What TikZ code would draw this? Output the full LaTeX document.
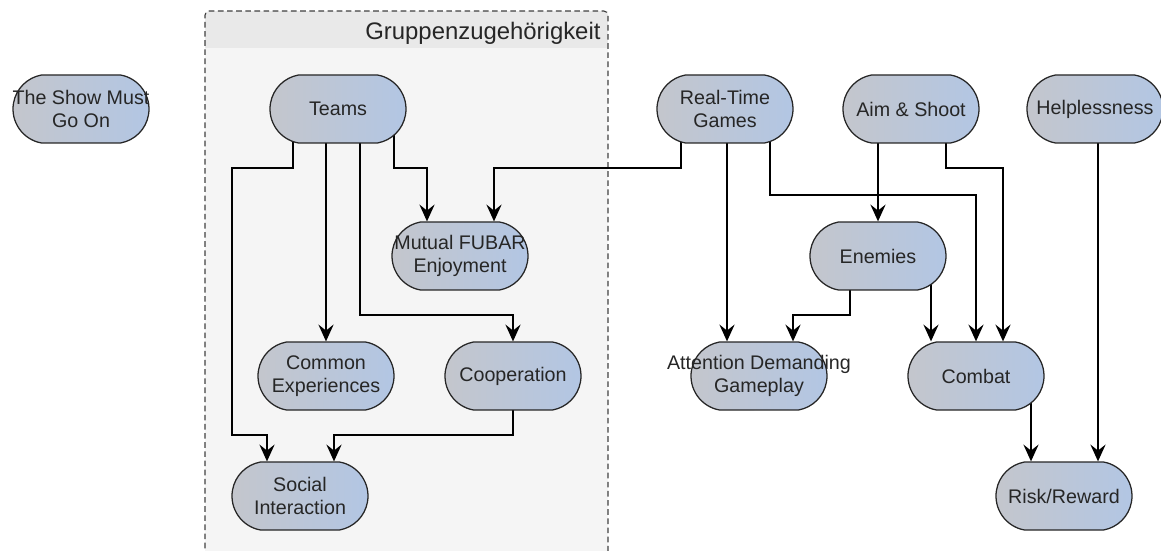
\documentclass[tikz,border=0pt]{standalone}
\usepackage{fontspec}
\setmainfont{Liberation Sans}
\usetikzlibrary{positioning,arrows.meta,shapes.misc}
\definecolor{nodeL}{RGB}{196,198,204}
\definecolor{nodeR}{RGB}{178,198,228}
\definecolor{groupHead}{RGB}{233,233,233}
\definecolor{groupBody}{RGB}{245,245,245}
\pgfdeclarelayer{background}
\pgfdeclarelayer{edges}
\pgfsetlayers{background,edges,main}
\newcommand{\mechfont}{\fontsize{14}{16.4}\selectfont}
\newcommand{\wideline}[1]{\makebox[0pt]{#1}}
\tikzset{mech node/.style={rounded rectangle, rounded rectangle arc length=160, draw=black!85, line width=0.9pt, left color=nodeL, right color=nodeR, minimum width=3.4cm, minimum height=1.7cm, inner sep=0pt, align=center, font=\mechfont, text=black!85, on grid},
link/.style={draw, line width=1.1pt, -{Stealth[length=4.2mm,width=3.8mm,inset=1.5mm]}}}

\begin{document}
\begin{tikzpicture}
			\useasboundingbox (0,0) rectangle (29.025,-13.775);
			% The group frame sits behind everything
			\begin{pgfonlayer}{background}
			    \begin{scope}
			        \clip[rounded corners=3pt] (5.125,-14.5) rectangle (15.2,-0.275);
			        \fill[groupBody] (5.125,-14.5) rectangle (15.2,-0.275);
			        \fill[groupHead] (5.125,-1.2) rectangle (15.2,-0.275);
			    \end{scope}
			    \draw[black!75, line width=0.8pt, dash pattern=on 4pt off 2.5pt, rounded corners=3pt] (5.125,-14.5) rectangle (15.2,-0.275);
			    \node[anchor=base east, font=\fontsize{17}{20}\selectfont, text=black!85, inner sep=0pt] (gruppe) at (15.02,-0.98) {Gruppenzugehörigkeit};
			\end{pgfonlayer}

			% Define each node
			% The name of the node is used to draw the links below
		    \node[mech node] (show) at (2.025,-2.725) {\wideline{The Show Must}\\Go On};
		    \node[mech node] (teams) [right = 6.425cm of show] {Teams};
		    \node[mech node] (realtime) [right = 9.675cm of teams] {Real-Time\\Games};
		    \node[mech node] (aim) [right = 4.65cm of realtime] {Aim \& Shoot};
		    \node[mech node] (help) [right = 4.6cm of aim] {Helplessness};
		    \node[mech node] (mutual) [below right = 3.675cm and 3.05cm of teams] {\wideline{Mutual FUBAR}\\Enjoyment};
		    \node[mech node] (enemies) [below left = 3.675cm and 0.825cm of aim] {Enemies};
		    \node[mech node] (common) [below left = 6.675cm and 0.3cm of teams] {Common\\Experiences};
		    \node[mech node] (coop) [right = 4.675cm of common] {Cooperation};
		    \node[mech node] (attention) [below right = 6.675cm and 0.85cm of realtime] {\wideline{Attention Demanding}\\Gameplay};
		    \node[mech node] (combat) [below right = 6.675cm and 1.625cm of aim] {Combat};
		    \node[mech node] (social) [below left = 3cm and 0.65cm of common] {Social\\Interaction};
		    \node[mech node] (risk) [below right = 3cm and 2.2cm of combat] {Risk/Reward};

			% Draw the links behind the nodes
			\begin{pgfonlayer}{edges}
		    \draw[link] ([xshift=-1.125cm]teams.center) |- (5.8,-4.2) |- (6.675,-10.875) -- ([xshift=-0.825cm]social.north);
		    \draw[link] ([xshift=-0.3cm]teams.center) -- (common.north);
		    \draw[link] ([xshift=0.55cm]teams.center) |- (12.825,-7.875) -- (coop.north);
		    \draw[link] ([xshift=1.4cm]teams.center) |- (10.675,-4.2) -- ([xshift=-0.825cm]mutual.north);
		    \draw[link] ([xshift=-1.1cm]realtime.center) |- (12.35,-4.2) -- ([xshift=0.85cm]mutual.north);
		    \draw[link] ([xshift=0.05cm]realtime.center) -- ([xshift=-0.8cm]attention.north);
		    \draw[link] ([xshift=1.125cm]realtime.center) |- (24.4,-4.875) -- (combat.north);
		    \draw[link] ([xshift=-0.825cm]aim.center) -- (enemies.north);
		    \draw[link] ([xshift=0.875cm]aim.center) |- (25.075,-4.2) -- ([xshift=0.675cm]combat.north);
		    \draw[link] ([xshift=0.075cm]help.center) -- ([xshift=0.85cm]risk.north);
		    \draw[link] ([xshift=-0.7cm]enemies.center) |- (19.825,-7.875) -- ([xshift=0.85cm]attention.north);
		    \draw[link] ([xshift=1.325cm]enemies.center) -- ([xshift=-1.125cm]combat.north);
		    \draw[link] ([xshift=1.375cm]combat.center) -- ([xshift=-0.825cm]risk.north);
		    \draw[link] (coop.center) |- (8.35,-10.875) -- ([xshift=0.85cm]social.north);
			\end{pgfonlayer}
		\end{tikzpicture}
\end{document}
